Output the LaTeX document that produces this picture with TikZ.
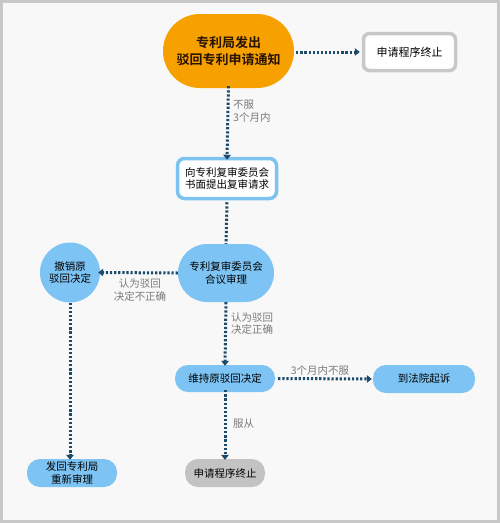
\documentclass[tikz,border=0pt]{standalone}
\usepackage{fontspec}
\newfontfamily\cjk{Noto Sans CJK SC}
\newfontfamily\cjkb{Noto Sans CJK SC Bold}
\usetikzlibrary{arrows.meta,shapes.geometric}
\definecolor{bg}{HTML}{F8F8F8}
\definecolor{frame}{HTML}{C8C8C8}
\definecolor{orng}{HTML}{F7A100}
\definecolor{lblue}{HTML}{7DC3F3}
\definecolor{bblue}{HTML}{7CC3F0}
\definecolor{dline}{HTML}{1B4A6A}
\definecolor{gfill}{HTML}{C3C3C3}
\definecolor{lbl}{HTML}{7A7A7A}
\tikzset{
  x=1pt,y=-1pt,
  every node/.style={font=\cjk\fontsize{10.5}{12.5}\selectfont, align=center, inner sep=0pt},
  flow/.style={draw=dline, line width=3pt, dash pattern=on 2.2pt off 1.9pt, -{Triangle[length=5pt,width=7.5pt]}},
  flowline/.style={draw=dline, line width=3pt, dash pattern=on 2.2pt off 1.9pt},
  lab/.style={text=lbl, font=\cjk\fontsize{10.5}{12.5}\selectfont, align=left}
}
\begin{document}
\begin{tikzpicture}
\useasboundingbox (0,0) rectangle (500,523);
\fill[frame] (0,0) rectangle (500,523);
\fill[bg] (3,3) rectangle (497,520);

% nodes
\node[fill=orng, rounded corners=37pt, minimum width=131pt, minimum height=74pt, font=\cjkb\fontsize{13}{17}\selectfont, text=black!85!orange] (start) at (228.5,51) {专利局发出\\驳回专利申请通知};
\node[fill=white, draw=frame, line width=3.5pt, rounded corners=6pt, minimum width=92pt, minimum height=37pt, font=\cjk\fontsize{11}{13}\selectfont] (end1) at (409.5,52) {申请程序终止};
\node[fill=white, draw=bblue, line width=3.5pt, rounded corners=7pt, minimum width=99pt, minimum height=40pt] (req) at (227,178.5) {向专利复审委员会\\书面提出复审请求};
\node[fill=lblue, rounded corners=29pt, minimum width=96pt, minimum height=58pt] (hear) at (226,273) {专利复审委员会\\合议审理};
\node[fill=lblue, circle, minimum size=60pt] (revoke) at (70,272.5) {撤销原\\驳回决定};
\node[fill=lblue, rounded corners=13pt, minimum width=100pt, minimum height=27pt] (keep) at (225,378.5) {维持原驳回决定};
\node[fill=lblue, rounded corners=13pt, minimum width=102pt, minimum height=28pt] (court) at (424,379) {到法院起诉};
\node[fill=gfill, rounded corners=13pt, minimum width=80pt, minimum height=28pt] (end2) at (225,473) {申请程序终止};
\node[fill=lblue, rounded corners=13pt, minimum width=90pt, minimum height=28pt] (back) at (72,473) {发回专利局\\重新审理};

% connectors
\draw[flow] (start.east) ++(2,1) -- ([xshift=-2pt]end1.west);
\draw[flow] ([yshift=2pt]start.south) -- ([yshift=-3pt]req.north);
\node[lab, anchor=north west] (l1) at (233,100) {不服\\3个月内};
\draw[flowline] ([yshift=-2pt]req.south) -- (hear.north);
\draw[flow] (hear.west) -- ([xshift=-2pt]revoke.east);
\node[lab, align=center] (l2) at (140,290) {认为驳回\\决定不正确};
\draw[flow] (hear.south) -- ([yshift=-1pt]keep.north);
\node[lab, anchor=north west] (l3) at (231,312) {认为驳回\\决定正确};
\draw[flow] ([xshift=3pt]keep.east) -- ([xshift=-1pt]court.west);
\node[lab] (l4) at (320,371) {3个月内不服};
\draw[flow] ([yshift=2pt]keep.south) -- ([yshift=-1pt]end2.north);
\node[lab, anchor=west] (l5) at (233,424) {服从};
\draw[flow] (revoke.south) -- ([yshift=-1pt]back.north -| revoke.south);
\end{tikzpicture}
\end{document}
